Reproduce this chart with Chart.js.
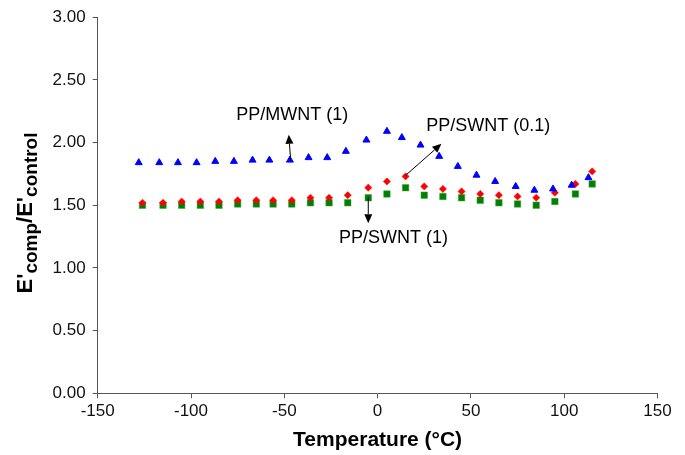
<!DOCTYPE html>
<html>
<head>
<meta charset="utf-8">
<script src="https://cdn.jsdelivr.net/npm/chart.js@4/dist/chart.umd.min.js"></script>
<style>
  html, body { margin: 0; padding: 0; background: #fff; }
  #wrap { width: 685px; height: 455px; }
</style>
</head>
<body>
<div id="wrap"><canvas id="c" width="685" height="455"></canvas></div>
<script>
// ---- Data ----
const tempMWNT = [-128, -117, -107, -97, -87, -77, -67, -58, -47, -37, -27, -17, -6, 5, 13, 23, 33, 43, 53, 63, 74, 84, 94, 104, 113];
const ratioMWNT = [1.84, 1.84, 1.84, 1.84, 1.85, 1.85, 1.86, 1.86, 1.86, 1.88, 1.88, 1.93, 2.02, 2.09, 2.04, 1.98, 1.89, 1.81, 1.74, 1.69, 1.65, 1.62, 1.63, 1.66, 1.72];
const tempSWNT = [-126, -115, -105, -95, -85, -75, -65, -56, -46, -36, -26, -16, -5, 5, 15, 25, 35, 45, 55, 65, 75, 85, 95, 106, 115];
const ratioSWNT01 = [1.52, 1.52, 1.53, 1.53, 1.53, 1.54, 1.54, 1.54, 1.54, 1.56, 1.56, 1.58, 1.64, 1.69, 1.73, 1.65, 1.63, 1.61, 1.59, 1.58, 1.57, 1.56, 1.60, 1.67, 1.77];
const ratioSWNT1 = [1.50, 1.50, 1.50, 1.50, 1.50, 1.51, 1.51, 1.51, 1.51, 1.52, 1.52, 1.52, 1.56, 1.59, 1.64, 1.58, 1.57, 1.56, 1.54, 1.52, 1.51, 1.50, 1.53, 1.59, 1.67];
const seriesNames = ['PP/MWNT (1)', 'PP/SWNT (0.1)', 'PP/SWNT (1)'];
const xTicks = [-150, -100, -50, 0, 50, 100, 150];
const yTicks = [0, 0.5, 1, 1.5, 2, 2.5, 3];

// ---- Annotation placement (data coordinates) ----
const labelAt = [[-75.8, 2.22], [26.1, 2.128], [-20.7, 1.242]];
const arrowFrom = [[-46.6, 1.864], [14.9, 1.737], [-5, 1.565]];
const arrowTo = [[-47.6, 2.062], [34.2, 1.99], [-5, 1.356]];

function pts(xs, ys) { return xs.map((x, i) => ({ x: x, y: ys[i] })); }

const FONT = '"Liberation Sans", Arial, sans-serif';

const annotPlugin = {
  id: 'annot',
  afterDatasetsDraw(chart) {
    const ctx = chart.ctx;
    const xs = chart.scales.x, ys = chart.scales.y;
    ctx.save();
    // arrows
    ctx.strokeStyle = '#000';
    ctx.fillStyle = '#000';
    ctx.lineWidth = 1;
    for (let i = 0; i < arrowFrom.length; i++) {
      const x1 = xs.getPixelForValue(arrowFrom[i][0]), y1 = ys.getPixelForValue(arrowFrom[i][1]);
      const x2 = xs.getPixelForValue(arrowTo[i][0]), y2 = ys.getPixelForValue(arrowTo[i][1]);
      const a = Math.atan2(y2 - y1, x2 - x1);
      const L = 9, W = 4;
      const bx = x2 - L * Math.cos(a), by = y2 - L * Math.sin(a);
      ctx.beginPath();
      ctx.moveTo(x1, y1);
      ctx.lineTo(bx, by);
      ctx.stroke();
      ctx.beginPath();
      ctx.moveTo(x2, y2);
      ctx.lineTo(bx + W * Math.sin(a), by - W * Math.cos(a));
      ctx.lineTo(bx - W * Math.sin(a), by + W * Math.cos(a));
      ctx.closePath();
      ctx.fill();
    }
    // labels
    ctx.font = '18px ' + FONT;
    ctx.textAlign = 'left';
    ctx.textBaseline = 'middle';
    for (let i = 0; i < labelAt.length; i++) {
      ctx.fillText(seriesNames[i], xs.getPixelForValue(labelAt[i][0]), ys.getPixelForValue(labelAt[i][1]));
    }
    // x title
    const ca = chart.chartArea;
    ctx.font = 'bold 21px ' + FONT;
    ctx.textAlign = 'center';
    ctx.textBaseline = 'alphabetic';
    ctx.fillText('Temperature (°C)', (ca.left + ca.right) / 2, 446);
    // y title with subscripts, rotated
    const parts = [
      { t: "E'", f: 'bold 22px ' + FONT, dy: 0 },
      { t: 'comp', f: 'bold 19px ' + FONT, dy: 5 },
      { t: "/E'", f: 'bold 22px ' + FONT, dy: 0 },
      { t: 'control', f: 'bold 19px ' + FONT, dy: 5 }
    ];
    let total = 0;
    parts.forEach(p => { ctx.font = p.f; p.w = ctx.measureText(p.t).width; total += p.w; });
    ctx.translate(32, 213);
    ctx.rotate(-Math.PI / 2);
    ctx.textAlign = 'left';
    let u = -total / 2;
    parts.forEach(p => { ctx.font = p.f; ctx.fillText(p.t, u, p.dy); u += p.w; });
    ctx.restore();
  }
};

new Chart(document.getElementById('c'), {
  type: 'scatter',
  data: {
    datasets: [
      { label: seriesNames[0], data: pts(tempMWNT, ratioMWNT), pointStyle: 'triangle', pointRadius: 4, borderWidth: 1,
        backgroundColor: '#0000FF', borderColor: '#0000FF' },
      { label: seriesNames[1], data: pts(tempSWNT, ratioSWNT01), pointStyle: 'rectRot', pointRadius: 3.6, borderWidth: 0.5,
        backgroundColor: '#FF0000', borderColor: '#FF0000' },
      { label: seriesNames[2], data: pts(tempSWNT, ratioSWNT1), pointStyle: 'rect', pointRadius: 4.6, borderWidth: 0.5,
        backgroundColor: '#008000', borderColor: '#40a040' }
    ]
  },
  options: {
    responsive: false,
    animation: false,
    events: [],
    layout: { padding: { left: 0, right: 27.5, top: 15, bottom: 0 } },
    plugins: { legend: { display: false }, tooltip: { enabled: false } },
    scales: {
      x: {
        type: 'linear', min: -150, max: 150,
        afterBuildTicks: s => { s.ticks = xTicks.map(v => ({ value: v })); },
        afterFit: s => { s.height = 61.7; },
        grid: { drawOnChartArea: false, drawTicks: true, tickLength: 5, color: '#555' },
        border: { color: '#555', width: 1 },
        ticks: { color: '#111', font: { family: FONT, size: 17 }, padding: 3, maxRotation: 0 }
      },
      y: {
        type: 'linear', min: 0, max: 3,
        afterBuildTicks: s => { s.ticks = yTicks.map(v => ({ value: v })); },
        afterFit: s => { s.width = 97.7; },
        grid: { drawOnChartArea: false, drawTicks: true, tickLength: 5, color: '#555' },
        border: { color: '#555', width: 1 },
        ticks: { color: '#111', font: { family: FONT, size: 17 }, padding: 7, callback: v => v.toFixed(2) }
      }
    }
  },
  plugins: [annotPlugin]
});
</script>
</body>
</html>
